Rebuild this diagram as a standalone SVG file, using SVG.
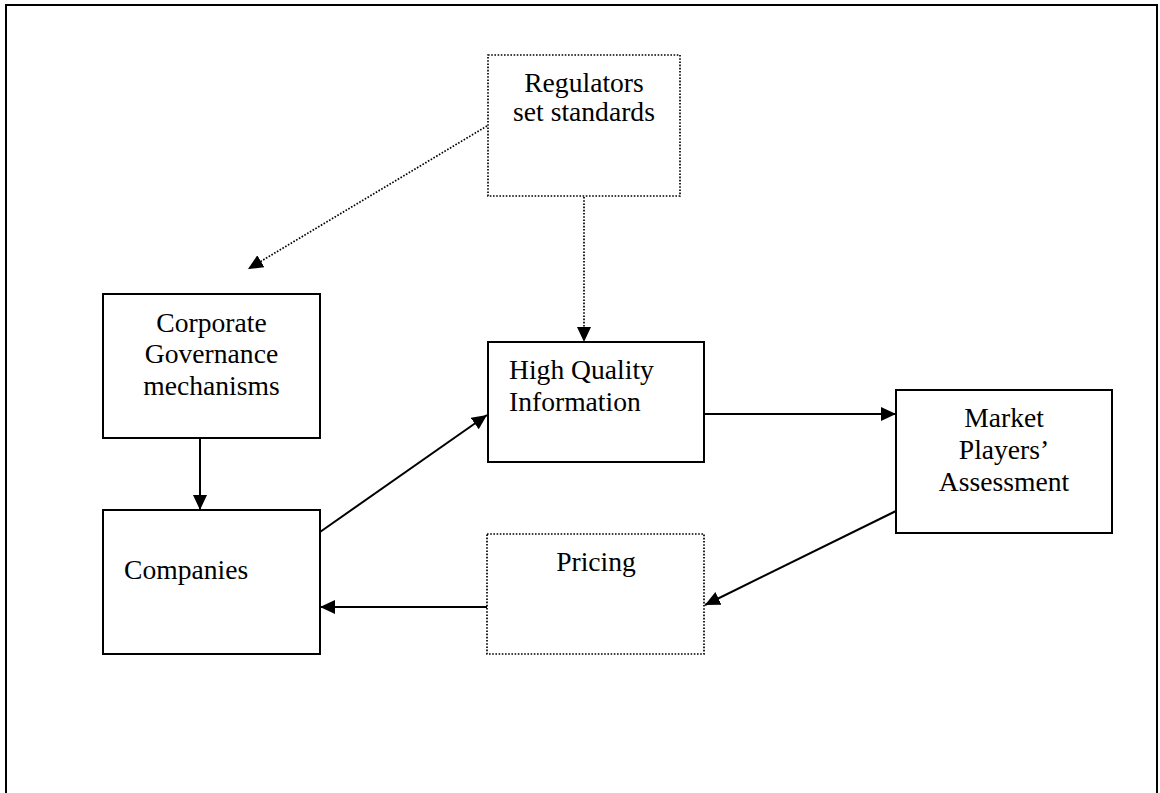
<svg xmlns="http://www.w3.org/2000/svg" width="1160" height="793" viewBox="0 0 1160 793">
  <style>
    .box { fill: #ffffff; stroke: #000000; stroke-width: 2; }
    .dbox { fill: #ffffff; stroke: #000000; stroke-width: 1.7; stroke-dasharray: 1.6 1.6; }
    .lbl { font-family: "Liberation Serif", "Times New Roman", serif; font-size: 27.6px; fill: #000000; }
    .mid { text-anchor: middle; }
    .conn { fill: none; stroke: #000000; stroke-width: 2; }
    .dconn { fill: none; stroke: #000000; stroke-width: 1.7; stroke-dasharray: 1.6 1.6; }
  </style>
  <defs>
    <marker id="arrow" markerUnits="userSpaceOnUse" markerWidth="16" markerHeight="15" refX="15" refY="7" orient="auto">
      <path d="M0,0 L15,7 L0,14 z" fill="#000000"/>
    </marker>
  </defs>
  <rect x="0" y="0" width="1160" height="793" fill="#ffffff"/>
  <g id="frame">
    <path d="M6,800 L6,5 L1157,5 L1157,800" fill="none" stroke="#000000" stroke-width="2"/>
  </g>

  <g id="connectors">
    <line class="dconn" x1="487" y1="126" x2="248" y2="269" marker-end="url(#arrow)"/>
    <line class="dconn" x1="584" y1="197" x2="584" y2="342" marker-end="url(#arrow)"/>
    <line class="conn" x1="200" y1="438" x2="200" y2="510" marker-end="url(#arrow)"/>
    <line class="conn" x1="320" y1="532" x2="487" y2="415" marker-end="url(#arrow)"/>
    <line class="conn" x1="704" y1="414" x2="896" y2="414" marker-end="url(#arrow)"/>
    <line class="conn" x1="896" y1="511" x2="705" y2="605" marker-end="url(#arrow)"/>
    <line class="conn" x1="487" y1="607" x2="320" y2="607" marker-end="url(#arrow)"/>
  </g>

  <g id="regulators">
    <rect class="dbox" x="488" y="55" width="192" height="141"/>
    <text class="lbl mid" x="584" y="92">Regulators</text>
    <text class="lbl mid" x="584" y="120.5">set standards</text>
  </g>

  <g id="corporate-governance">
    <rect class="box" x="103" y="294" width="217" height="144"/>
    <text class="lbl mid" x="211.5" y="331.5">Corporate</text>
    <text class="lbl mid" x="211.5" y="363">Governance</text>
    <text class="lbl mid" x="211.5" y="395">mechanisms</text>
  </g>

  <g id="high-quality-information">
    <rect class="box" x="488" y="342" width="216" height="120"/>
    <text class="lbl" x="509" y="379">High Quality</text>
    <text class="lbl" x="509" y="411">Information</text>
  </g>

  <g id="market-players">
    <rect class="box" x="896" y="390" width="216" height="143"/>
    <text class="lbl mid" x="1004" y="427">Market</text>
    <text class="lbl mid" x="1004" y="459">Players’</text>
    <text class="lbl mid" x="1004" y="491">Assessment</text>
  </g>

  <g id="companies">
    <rect class="box" x="103" y="510" width="217" height="144"/>
    <text class="lbl" x="124" y="579">Companies</text>
  </g>

  <g id="pricing">
    <rect class="dbox" x="487" y="534" width="217" height="120"/>
    <text class="lbl mid" x="596" y="571">Pricing</text>
  </g>
</svg>
